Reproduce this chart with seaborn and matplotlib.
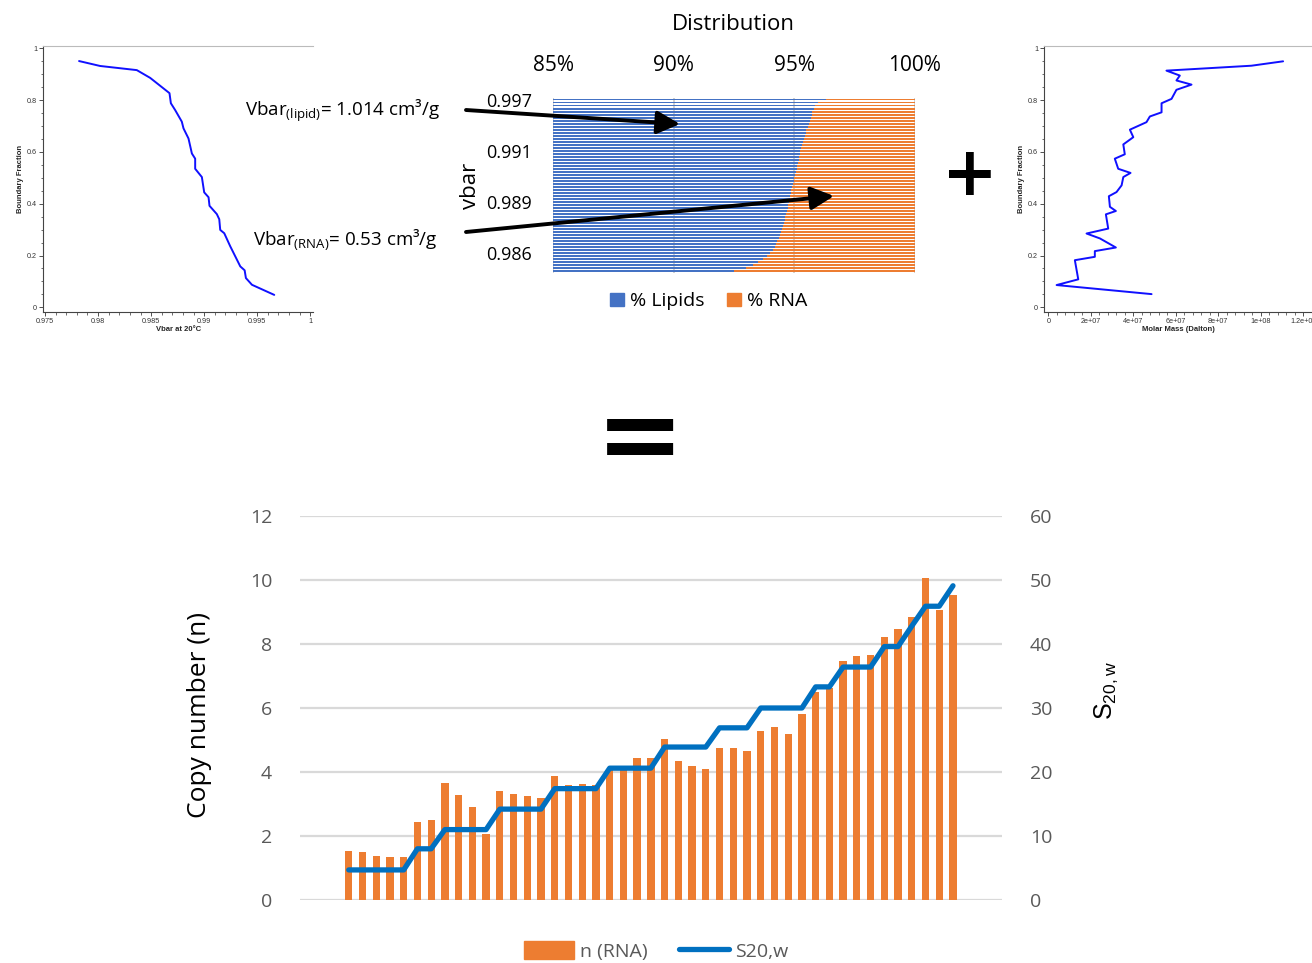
import numpy as np
import pandas as pd
import seaborn as sns
import matplotlib.pyplot as plt
from matplotlib.patches import Patch
from matplotlib.lines import Line2D
from matplotlib.ticker import AutoMinorLocator, MultipleLocator, FuncFormatter

# top left: boundary fraction vs vbar at 20 C
vbar_x = [0.97821, 0.98019, 0.98365, 0.98491, 0.98673, 0.98686, 0.98726, 0.98789,
          0.98805, 0.98852, 0.98884, 0.98915, 0.98915, 0.98978, 0.99000, 0.99041,
          0.99050, 0.99119, 0.99142, 0.99151, 0.99189, 0.99245, 0.99340, 0.99381,
          0.99393, 0.99450, 0.99660]
vbar_frac = [0.951, 0.932, 0.916, 0.886, 0.827, 0.788, 0.762, 0.717, 0.691, 0.652,
             0.594, 0.574, 0.535, 0.503, 0.444, 0.425, 0.392, 0.360, 0.340, 0.299,
             0.286, 0.236, 0.158, 0.143, 0.113, 0.087, 0.048]

# top right: boundary fraction vs molar mass (Dalton)
mm_x = [1.105e8, 0.956e8, 0.556e8, 0.619e8, 0.603e8, 0.674e8, 0.603e8, 0.580e8,
        0.533e8, 0.533e8, 0.478e8, 0.462e8, 0.384e8, 0.400e8, 0.353e8, 0.360e8,
        0.313e8, 0.329e8, 0.387e8, 0.353e8, 0.345e8, 0.321e8, 0.285e8, 0.290e8,
        0.318e8, 0.271e8, 0.282e8, 0.180e8, 0.243e8, 0.318e8, 0.219e8, 0.219e8,
        0.125e8, 0.141e8, 0.039e8, 0.486e8]
mm_frac = [0.950, 0.933, 0.914, 0.895, 0.876, 0.860, 0.840, 0.805, 0.788, 0.753,
           0.737, 0.715, 0.686, 0.657, 0.629, 0.591, 0.574, 0.535, 0.519, 0.503,
           0.471, 0.445, 0.429, 0.388, 0.372, 0.359, 0.304, 0.285, 0.266, 0.231,
           0.217, 0.195, 0.182, 0.108, 0.086, 0.051]

# middle: % lipids per vbar slice (top = highest vbar), rest is RNA
lipid_pct = [96.3, 96.0, 95.85, 95.8, 95.75, 95.72, 95.7, 95.65, 95.6, 95.55,
             95.5, 95.48, 95.45, 95.4, 95.35, 95.3, 95.28, 95.25, 95.22, 95.2,
             95.18, 95.15, 95.12, 95.1, 95.07, 95.04, 95.0, 94.98, 94.95, 94.92,
             94.88, 94.85, 94.82, 94.8, 94.78, 94.75, 94.72, 94.7, 94.67, 94.63,
             94.6, 94.57, 94.53, 94.5, 94.45, 94.4, 94.35, 94.3, 94.25, 94.2,
             94.1, 94.0, 93.88, 93.7, 93.5, 93.3, 93.0, 92.5]
vbar_tick_rows = [0, 17, 34, 51]
vbar_tick_labels = ["0.997", "0.991", "0.989", "0.986"]
pct_ticks = [85, 90, 95, 100]

# bottom: copy number and sedimentation coefficient
n_rna = [1.53, 1.49, 1.38, 1.34, 1.34, 2.43, 2.49, 3.66, 3.28, 2.91,
         2.07, 3.41, 3.32, 3.26, 3.20, 3.86, 3.59, 3.64, 3.60, 4.10,
         4.10, 4.45, 4.45, 5.02, 4.35, 4.20, 4.10, 4.74, 4.74, 4.66,
         5.27, 5.40, 5.19, 5.81, 6.51, 6.61, 7.48, 7.64, 7.66, 8.23,
         8.46, 8.83, 10.05, 9.05, 9.53]
s20w = [4.7, 4.7, 4.7, 4.7, 4.7, 8.0, 8.0, 11.0, 11.0, 11.0,
        11.0, 14.2, 14.2, 14.2, 14.2, 17.4, 17.4, 17.4, 17.4, 20.6,
        20.6, 20.6, 20.6, 23.9, 23.9, 23.9, 23.9, 26.9, 26.9, 26.9,
        30.0, 30.0, 30.0, 30.0, 33.3, 33.3, 36.4, 36.4, 36.4, 39.6,
        39.6, 42.8, 45.9, 45.9, 49.1]

sns.set_style("white")
plt.rcParams["font.family"] = ["Open Sans", "DejaVu Sans"]
plt.rcParams["mathtext.fontset"] = "custom"
plt.rcParams["mathtext.rm"] = "Open Sans"
plt.rcParams["text.color"] = "black"

BLUE = "#4472C4"
ORANGE = "#ED7D31"
LINE_BLUE = "#0070C0"
GRAY = "#595959"

fig = plt.figure(figsize=(13.12, 9.63), dpi=100)


def small_panel(ax, x, y):
    sns.lineplot(x=x, y=y, ax=ax, sort=False, estimator=None, color="#1010ff",
                 lw=1.4)
    ax.set_ylim(-0.017, 1.009)
    ax.yaxis.set_major_locator(MultipleLocator(0.2))
    ax.yaxis.set_minor_locator(AutoMinorLocator(4))
    ax.xaxis.set_minor_locator(AutoMinorLocator(5))
    fmt = FuncFormatter(lambda v, p: "%g" % round(v, 10))
    ax.xaxis.set_major_formatter(fmt)
    ax.yaxis.set_major_formatter(fmt)
    ax.tick_params(which="both", direction="out", labelsize=5.2, colors="#333333",
                   bottom=True, left=True, pad=1.5)
    ax.tick_params(which="major", length=3, width=0.6)
    ax.tick_params(which="minor", length=1.8, width=0.5)
    for lab in ax.get_xticklabels() + ax.get_yticklabels():
        lab.set_family("Liberation Sans")
    ax.spines["right"].set_visible(False)
    ax.spines["top"].set_color("#bbbbbb")
    ax.spines["left"].set_color("#444444")
    ax.spines["bottom"].set_color("#444444")
    ax.set_ylabel("Boundary Fraction", fontsize=5.5, fontweight="bold",
                  family="Liberation Sans", labelpad=2)


# top left panel
ax_l = fig.add_axes([43.3 / 1312, 0.6763, 270 / 1312, 0.2759])
small_panel(ax_l, vbar_x, vbar_frac)
ax_l.set_xlim(0.97484, 1.00028)
ax_l.set_xticks([0.975, 0.98, 0.985, 0.99, 0.995, 1.0])
ax_l.set_xlabel("Vbar at 20°C", fontsize=5.5, fontweight="bold",
                family="Liberation Sans", labelpad=0.5)

# top right panel
ax_r = fig.add_axes([1044.3 / 1312, 0.6763, (1312 - 1044.3) / 1312, 0.2759])
small_panel(ax_r, mm_x, mm_frac)
ax_r.set_xlim(-1.88e6, 1.241e8)
ax_r.set_xticks([0, 2e7, 4e7, 6e7, 8e7, 1e8, 1.2e8])
ax_r.set_xlabel("Molar Mass (Dalton)", fontsize=5.5, fontweight="bold",
                family="Liberation Sans", labelpad=0.5)

# middle distribution chart (100% stacked horizontal bars)
ax_m = fig.add_axes([553 / 1312, (963 - 272.5) / 963, 362 / 1312, 174.5 / 963])
rows = list(range(len(lipid_pct)))
sns.barplot(x=[100] * len(rows), y=rows, orient="h", ax=ax_m, color=ORANGE,
            width=0.65, linewidth=0, saturation=1)
sns.barplot(x=lipid_pct, y=rows, orient="h", ax=ax_m, color=BLUE,
            width=0.65, linewidth=0, saturation=1)
ax_m.set_xlim(85, 100)
ax_m.set_ylim(len(rows) - 0.5, -0.5)
ax_m.xaxis.tick_top()
ax_m.set_xticks(pct_ticks)
ax_m.set_xticklabels([f"{t}%" for t in pct_ticks])
ax_m.set_yticks(vbar_tick_rows)
ax_m.set_yticklabels(vbar_tick_labels)
ax_m.tick_params(axis="x", length=0, labelsize=15, pad=16, colors="black")
ax_m.tick_params(axis="y", length=0, labelsize=13, pad=15, colors="black")
ax_m.grid(axis="x", color="#c8c8c8", lw=1.2)
ax_m.set_axisbelow(True)
for sp in ax_m.spines.values():
    sp.set_visible(False)
ax_m.set_xlabel("")
ax_m.set_ylabel("")
fig.text(733 / 1312, 1 - 25 / 963, "Distribution", ha="center", va="center",
         fontsize=16)
fig.text(470 / 1312, 1 - 186 / 963, "vbar", ha="center", va="center",
         rotation=90, fontsize=16)
ax_m.legend(handles=[Patch(color=BLUE, label="% Lipids"),
                     Patch(color=ORANGE, label="% RNA")],
            loc="center", bbox_to_anchor=(0.43, -0.165), ncol=2, frameon=False,
            fontsize=14, handlelength=0.7, handleheight=0.7, handletextpad=0.3,
            columnspacing=1.2)

# annotations: vbar of the two components, arrows into the distribution
fig.text(440 / 1312, 1 - 111 / 963, r"Vbar$_{\mathregular{(lipid)}}$= 1.014 cm³/g",
         ha="right", va="center", fontsize=13.5)
fig.text(438 / 1312, 1 - 240 / 963, r"Vbar$_{\mathregular{(RNA)}}$= 0.53 cm³/g",
         ha="right", va="center", fontsize=13.5)
arrow = dict(arrowstyle="-|>,head_length=0.7,head_width=0.35", lw=2.8,
             color="black", mutation_scale=20, shrinkA=0, shrinkB=0)
ax_m.annotate("", xy=(680, 963 - 124), xytext=(466, 963 - 110),
              xycoords="figure pixels", textcoords="figure pixels",
              arrowprops=arrow, annotation_clip=False)
ax_m.annotate("", xy=(834, 963 - 196), xytext=(466, 963 - 232),
              xycoords="figure pixels", textcoords="figure pixels",
              arrowprops=arrow, annotation_clip=False)

fig.text(970 / 1312, 1 - 176 / 963, "+", ha="center", va="center",
         fontsize=48, fontweight="bold", family="DejaVu Sans", color="black")
fig.text(640 / 1312, 1 - 441 / 963, "=", ha="center", va="center",
         fontsize=76, fontweight="bold", family="DejaVu Sans", color="black")

# bottom chart
ax_b = fig.add_axes([300 / 1312, 63 / 963, 702 / 1312, 384 / 963])
idx = list(range(len(n_rna)))
sns.barplot(x=idx, y=n_rna, ax=ax_b, color=ORANGE, width=0.53, saturation=1,
            linewidth=0)
ax_b.set_ylim(0, 12)
ax_b.set_yticks(range(0, 13, 2))
ax_b.set_xticks([])
ax_b.grid(axis="y", color="#d9d9d9", lw=1.6)
ax_b.set_axisbelow(True)
ax_b.tick_params(axis="y", length=0, labelsize=14, colors=GRAY, pad=20)
for sp in ax_b.spines.values():
    sp.set_visible(False)
ax_b.set_xlabel("")
ax_b.set_ylabel("")

ax_b2 = ax_b.twinx()
sns.lineplot(x=idx, y=s20w, ax=ax_b2, color=LINE_BLUE, lw=3.8, legend=False,
             solid_capstyle="round", solid_joinstyle="round")
ax_b2.set_ylim(0, 60)
ax_b2.set_yticks(range(0, 61, 10))
ax_b2.tick_params(axis="y", length=0, labelsize=14, colors=GRAY, pad=20)
for sp in ax_b2.spines.values():
    sp.set_visible(False)
ax_b2.set_ylabel("")
ax_b.set_xlim(-3.55, 47.57)

fig.text(200 / 1312, 1 - 715 / 963, "Copy number (n)", ha="center", va="center",
         rotation=90, fontsize=19)
fig.text(1106 / 1312, 1 - 690 / 963, r"S$_{\mathregular{20,w}}$", ha="center",
         va="center", rotation=90, fontsize=18, family="Liberation Sans")

fig.legend(handles=[Patch(color=ORANGE, label="n (RNA)"),
                    Line2D([], [], color=LINE_BLUE, lw=3.8, label="S20,w")],
           loc="center", bbox_to_anchor=(656 / 1312, 1 - 951 / 963), ncol=2,
           frameon=False, fontsize=14, handlelength=2.6, handleheight=1.0,
           handletextpad=0.3, columnspacing=1.6, labelcolor=GRAY)

fig.savefig("out.png", dpi=100)
